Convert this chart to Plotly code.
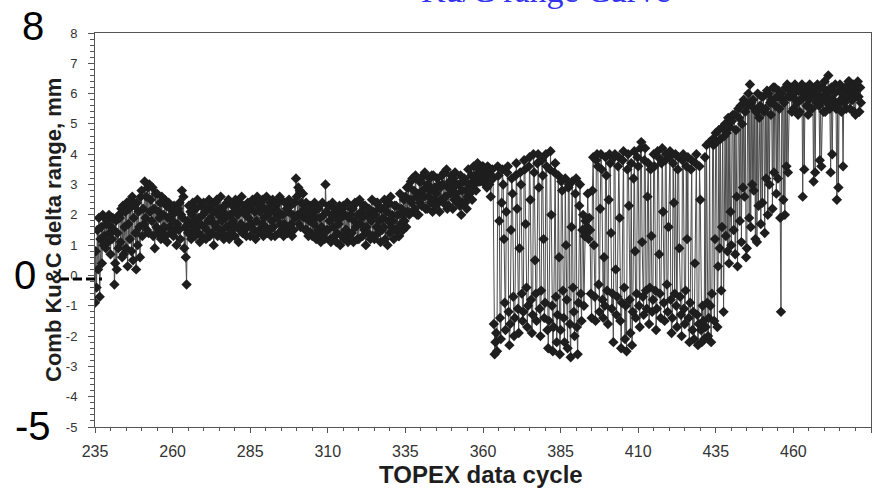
import plotly.graph_objects as go

# ---- data: Comb Ku&C delta range (mm), four samples per TOPEX cycle ----
# each row: values at cycle c, c+0.25, c+0.5, c+0.75
seg1_start = 235
seg1 = [[-0.9, 0.8, -0.4, 1.5], [0.2, 1.9, -0.7, 1.2], [1.6, 0.4, 2.0, 1.0], [1.3, 1.9, 0.9, 1.7],
        [1.8, 1.1, 2.0, 1.4], [0.7, 1.6, 1.2, 1.9], [1.5, -0.3, 0.4, 1.8], [0.2, 1.4, 0.9, 2.0],
        [1.9, 1.1, 2.2, 0.6], [2.3, 0.7, 1.6, 2.1], [0.9, 2.4, 0.3, 1.7], [2.2, 1.2, 2.5, 0.8],
        [2.6, 0.5, 1.9, 2.3], [1.4, 0.2, 2.4, 1.0], [2.1, 1.6, 0.6, 2.6], [2.8, 1.3, 2.2, 1.7],
        [3.1, 1.9, 2.6, 1.5], [2.9, 1.4, 3.0, 2.1], [2.5, 1.8, 2.9, 1.3], [2.2, 0.9, 2.7, 1.6],
        [2.7, 1.4, 2.1, 1.9], [2.4, 1.2, 2.6, 1.5], [2.0, 1.6, 2.5, 1.3], [2.3, 1.1, 1.9, 2.4],
        [1.6, 2.2, 1.4, 2.0], [1.8, 1.3, 2.3, 1.5], [2.1, 1.0, 1.7, 2.2], [1.5, 2.4, 1.2, 2.0],
        [2.8, 1.9, 2.6, 0.9], [1.6, 0.6, -0.3, 1.8]]

seg2_start = 265
seg2 = [[1.4, 2.3, 1.7, 2.1], [1.2, 2.0, 2.4, 1.5], [1.8, 1.3, 2.2, 1.6], [2.5, 1.4, 1.9, 1.1],
        [1.7, 2.3, 1.3, 2.0], [2.4, 1.6, 2.1, 1.2], [1.5, 2.2, 1.8, 2.5], [1.3, 1.9, 2.3, 1.4],
        [2.1, 1.0, 1.7, 2.4], [1.6, 2.5, 1.3, 2.0], [2.2, 1.5, 2.6, 1.8], [1.4, 2.1, 1.2, 2.3],
        [1.9, 1.6, 2.4, 1.3], [2.5, 1.2, 2.0, 1.7], [1.5, 2.3, 1.8, 2.1], [1.3, 2.5, 1.6, 2.2],
        [2.0, 1.1, 2.4, 1.5], [1.7, 2.6, 1.4, 2.1], [2.3, 1.5, 2.0, 1.3], [1.6, 2.4, 1.9, 2.2],
        [1.3, 2.2, 1.7, 2.5], [2.4, 1.5, 2.1, 1.2], [1.8, 2.6, 1.4, 2.3], [1.5, 2.1, 2.4, 1.7],
        [2.5, 1.3, 1.9, 2.2], [1.6, 2.6, 1.4, 2.0], [2.2, 1.5, 2.4, 1.3], [1.8, 2.5, 1.6, 2.1],
        [1.3, 2.3, 1.9, 2.4], [2.1, 1.4, 2.6, 1.7], [2.5, 1.5, 2.0, 1.3], [1.7, 2.4, 1.4, 2.2],
        [1.4, 2.1, 2.5, 1.6], [2.3, 1.7, 1.3, 2.0], [1.5, 2.4, 1.9, 3.2]]

seg3_start = 300
seg3 = [[2.6, 2.0, 2.9, 1.7], [2.8, 1.6, 2.4, 2.1], [2.7, 1.9, 2.2, 1.5], [2.4, 1.5, 2.0, 1.3],
        [1.8, 2.3, 1.4, 2.1], [1.3, 2.0, 1.7, 2.4], [1.9, 1.2, 2.2, 1.5], [2.2, 1.4, 1.9, 1.1],
        [1.6, 2.4, 1.3, 2.0], [1.2, 3.0, 2.1, 1.5], [1.5, 2.3, 1.8, 1.2], [1.1, 2.0, 2.4, 1.6],
        [2.2, 1.3, 1.9, 1.1], [1.4, 2.1, 1.7, 2.3], [1.0, 1.9, 1.3, 2.2], [2.3, 1.2, 2.0, 1.5],
        [1.5, 2.4, 1.1, 1.9], [1.3, 2.0, 2.2, 1.4], [2.2, 1.1, 1.8, 2.4], [1.6, 2.4, 1.2, 2.0],
        [1.2, 2.5, 1.7, 2.1], [1.9, 1.3, 2.3, 1.5], [2.3, 1.0, 1.6, 2.0], [1.4, 2.2, 1.9, 1.2],
        [1.8, 2.5, 1.3, 2.1], [1.2, 2.0, 2.4, 1.6], [2.4, 1.4, 1.8, 2.2], [1.1, 2.2, 1.5, 1.9],
        [1.6, 2.5, 1.2, 2.3], [2.1, 1.0, 1.8, 2.4], [1.4, 2.6, 1.6, 2.0], [1.8, 1.2, 2.3, 1.5],
        [2.3, 1.5, 2.0, 1.3], [1.3, 2.7, 1.7, 2.2], [2.0, 1.5, 2.5, 1.8], [2.6, 1.6, 2.9, 2.1],
        [2.9, 2.0, 2.5, 3.1], [2.4, 3.2, 2.1, 2.8], [2.2, 3.3, 2.6, 2.0], [2.7, 2.0, 3.1, 2.4]]

seg4_start = 340
seg4 = [[3.1, 2.3, 2.8, 3.3], [2.6, 3.4, 2.2, 2.9], [2.2, 3.0, 2.6, 3.2], [2.8, 2.4, 3.3, 2.1],
        [3.3, 2.5, 2.9, 2.3], [2.7, 3.2, 2.4, 3.0], [2.1, 2.9, 2.5, 3.3], [3.0, 2.4, 3.4, 2.6],
        [2.6, 3.5, 2.2, 2.9], [2.3, 3.1, 2.7, 3.3], [2.9, 2.2, 3.2, 2.5], [3.4, 2.7, 3.0, 2.4],
        [2.5, 3.0, 2.3, 3.3], [2.0, 2.8, 2.4, 3.1], [3.2, 2.4, 2.8, 2.2], [2.6, 3.5, 3.0, 2.7],
        [2.9, 3.3, 2.5, 3.1], [3.6, 3.0, 3.3, 2.8], [3.3, 3.7, 3.1, 3.5], [3.1, 3.5, 3.4, 3.6],
        [3.6, 3.2, 3.5, 3.0], [3.4, 2.9, 3.6, 3.2], [3.0, 3.5, 2.6, 3.3]]

seg5_start = 363
seg5 = [[3.5, 3.2, -1.6, -2.6], [-2.2, -1.9, -2.5, 3.6], [3.3, 1.8, -1.4, -2.1], [2.4, 3.5, 3.0, 1.2],
        [-0.9, -1.8, 2.1, 3.4], [3.6, -1.2, -2.3, -1.6], [1.5, 3.2, 2.7, -0.7], [-2.0, -1.4, 3.3, 3.7],
        [2.2, -1.1, -1.9, 0.9], [3.4, 3.0, -0.6, -1.5], [-1.2, 3.8, 3.5, 1.7], [-0.4, -1.7, -1.0, 3.6],
        [3.9, 2.5, -0.8, -1.9], [-1.3, 4.0, 3.4, 0.5], [-0.6, -1.5, 3.7, 4.0], [2.9, -1.1, -2.0, -0.5],
        [3.8, 3.3, 1.2, -1.4], [-0.9, 4.0, 3.6, -1.8], [-2.4, -1.5, 3.5, 4.1], [2.0, -1.0, -2.5, -1.7],
        [3.4, 3.7, -0.7, -2.2], [-1.3, 3.3, 0.6, -2.6], [-1.8, 3.1, 2.8, -0.5], [-1.4, -2.2, 3.2, 1.0],
        [-0.8, -2.4, 2.9, 3.0], [-1.6, -2.7, 1.6, 3.1], [-0.4, -1.2, -2.0, 2.7], [3.2, -1.7, -2.6, -0.9],
        [2.3, 3.0, -0.6, -1.5], [1.5, 2.0, -1.0, 1.3], [1.8, 1.4, 1.6, 2.7], [1.2, 1.9, 1.5, -0.6],
        [-1.4, 2.8, 3.9, 1.0], [-0.7, -1.5, 3.8, 4.0], [3.6, -0.3, -1.2, 2.2], [4.0, 3.5, -0.8, -1.4],
        [0.6, -1.0, 3.9, 3.3], [-0.5, -1.6, 2.5, 4.0], [3.7, 1.4, -1.1, -0.6], [-2.2, 3.9, 4.0, 0.2],
        [-1.3, -0.7, 3.6, 3.9], [1.9, -1.5, -2.4, -0.9], [3.8, 4.1, -0.4, -2.1], [-1.0, -2.5, 3.5, 4.0],
        [2.3, -0.8, -1.9, 3.7], [-2.3, -1.2, 3.2, 4.1], [0.8, -1.4, -0.6, 3.9], [3.6, -1.0, -1.7, 4.2],
        [4.4, 1.1, -0.7, -1.3], [3.8, 4.2, -0.5, -1.1], [2.6, 3.7, -1.6, -0.4], [3.5, 1.3, -1.2, -0.8],
        [4.0, 3.6, -0.5, -1.8], [-1.1, 4.1, 3.9, 0.7], [-0.6, -1.4, 3.7, 4.2], [2.1, -0.9, -1.5, 3.8],
        [4.0, -0.3, -1.2, 1.6], [3.9, 4.1, -0.8, -1.9], [-1.4, 3.7, 2.4, -0.6], [4.0, -1.0, -1.7, 3.5],
        [3.9, 0.9, -0.7, -1.3], [-2.0, 3.8, 4.0, -1.1], [-1.6, -0.5, 3.6, 1.2], [3.9, -1.4, -2.2, -0.9],
        [3.5, 3.8, -1.8, -1.2], [-2.1, 0.4, 3.7, 4.0], [-1.3, -2.3, -1.6, 3.6], [2.5, -1.8, -2.2, -1.0],
        [-1.5, -2.1, 3.9, -1.7], [4.3, -0.9, -2.0, -1.4]]

seg6_start = 433
seg6 = [[4.4, -1.0, -2.2, -0.6], [4.5, 4.3, -1.5, 1.2], [4.7, 4.4, -1.7, 0.3], [4.8, 0.9, 4.5, -0.5],
        [1.6, 4.9, -1.2, 4.6], [5.0, 1.3, 4.7, 0.8], [5.2, 0.4, 4.9, 2.1], [1.0, 5.1, 5.3, 1.5],
        [5.3, 0.7, 4.8, 2.6], [0.3, 5.5, 5.2, 1.8], [5.6, 1.1, 5.0, 2.9], [5.8, 2.6, 5.4, 0.6],
        [0.9, 5.6, 6.0, 1.9], [6.3, 1.6, 5.7, 3.0], [5.8, 2.8, 5.5, 1.2], [5.4, 1.1, 6.0, 2.3],
        [5.2, 5.6, 1.7, 5.9], [2.4, 5.9, 5.4, 1.4], [5.5, 3.2, 6.1, 2.0], [6.0, 3.0, 5.7, 5.3],
        [5.8, 2.2, 6.2, 3.4], [6.2, 5.6, 2.7, 5.9], [3.2, 6.1, 5.5, 1.9], [-1.2, 6.0, 5.8, 2.5],
        [5.7, 2.0, 6.2, 3.6], [6.3, 3.4, 5.9, 6.1], [5.9, 6.2, 5.4, 6.0], [5.5, 6.0, 6.3, 5.8],
        [6.2, 5.7, 5.3, 6.1], [5.4, 6.1, 5.8, 6.3], [2.6, 5.9, 3.5, 6.0], [6.2, 5.6, 6.0, 5.3],
        [5.8, 6.3, 5.5, 6.1], [5.5, 5.9, 3.1, 6.2], [3.4, 6.0, 5.7, 6.3], [6.1, 5.6, 3.8, 5.9],
        [3.6, 5.8, 6.2, 5.4], [6.4, 5.4, 6.0, 5.7], [5.9, 6.6, 6.1, 5.5], [3.4, 6.2, 4.0, 5.8],
        [5.7, 6.0, 6.3, 5.5], [2.5, 5.6, 2.9, 6.1], [6.3, 5.8, 5.4, 6.0], [3.6, 6.0, 5.7, 6.2],
        [5.5, 6.2, 5.9, 6.4], [6.4, 5.5, 6.1, 5.8], [5.8, 6.3, 5.4, 6.0], [5.3, 6.1, 5.9, 6.4],
        [5.9, 5.4, 6.2, 5.7]]

segments = [(seg1_start, seg1), (seg2_start, seg2), (seg3_start, seg3),
            (seg4_start, seg4), (seg5_start, seg5), (seg6_start, seg6)]

x_ticks = [235, 260, 285, 310, 335, 360, 385, 410, 435, 460, 485]
y_ticks = [8, 7, 6, 5, 4, 3, 2, 1, 0, -1, -2, -3, -4, -5]
y_ticktext = ["8", "7", "6", "5", "4", "3", "2", "1", "0", "-1", "-2", "-3", "-4", "-5"]

cycles, values = [], []
for start, rows in segments:
    for i, row in enumerate(rows):
        for j, v in enumerate(row):
            cycles.append(start + i + j * 0.25)
            values.append(v)

fig = go.Figure()
fig.add_trace(go.Scatter(
    x=cycles, y=values, mode="lines+markers",
    line=dict(color="#4d4d4d", width=1),
    marker=dict(symbol="diamond", size=8, color="#1e1e1e"),
    showlegend=False, hoverinfo="skip"))

axis_font = "Liberation Sans, Arial, sans-serif"
fig.update_layout(
    width=883, height=488,
    margin=dict(l=95, r=12, t=33, b=61),
    paper_bgcolor="white", plot_bgcolor="white",
    font=dict(family=axis_font, color="#333333"),
    xaxis=dict(range=[235, 485], tickmode="array", tickvals=x_ticks, automargin=False,
               showgrid=False, zeroline=False, showline=True, mirror=True,
               linecolor="#555555", linewidth=1,
               ticks="outside", ticklen=5, tickcolor="#555555",
               tickfont=dict(size=16, color="#333333"), ticklabelstandoff=5,
               minor=dict(dtick=5, ticks="outside", ticklen=3, tickcolor="#555555")),
    yaxis=dict(range=[-5, 8], tickmode="array", tickvals=y_ticks, ticktext=y_ticktext,
               automargin=False,
               showgrid=False, zeroline=False, showline=True, mirror=True,
               linecolor="#555555", linewidth=1,
               ticks="outside", ticklen=6, tickcolor="#555555",
               tickfont=dict(size=13, color="#333333"), ticklabelstandoff=8,
               minor=dict(dtick=0.2, ticks="outside", ticklen=4, tickcolor="#555555")),
)

# axis titles
fig.add_annotation(text="<b>TOPEX data cycle</b>", xref="paper", yref="paper",
                   x=(481 - 95) / 776, y=(427 - 474) / 394, showarrow=False,
                   font=dict(size=24, color="#1e1e1e"), xanchor="center", yanchor="middle")
fig.add_annotation(text="<b>Comb Ku&C delta range, mm</b>", xref="paper", yref="paper",
                   x=(53 - 95) / 776, y=(427 - 230) / 394, showarrow=False, textangle=-90,
                   font=dict(size=22, color="#1e1e1e"), xanchor="center", yanchor="middle")

# overlaid large reference labels and title fragment
big = dict(family="Liberation Sans, Arial, sans-serif", size=40, color="black")
fig.add_annotation(text="8", xref="paper", yref="paper", x=(33 - 95) / 776, y=(427 - 26) / 394,
                   showarrow=False, font=big, xanchor="center", yanchor="middle")
fig.add_annotation(text="0", xref="paper", yref="paper", x=(25 - 95) / 776, y=(427 - 275) / 394,
                   showarrow=False, font=big, xanchor="center", yanchor="middle")
fig.add_annotation(text="-5", xref="paper", yref="paper", x=(33 - 95) / 776, y=(427 - 426) / 394,
                   showarrow=False, font=big, xanchor="center", yanchor="middle")
fig.add_shape(type="line", xref="paper", yref="y", x0=(60 - 95) / 776, x1=(102 - 95) / 776,
              y0=-0.12, y1=-0.12, line=dict(color="black", width=3, dash="9px,4px"))
fig.add_annotation(text="Ku/C range Curve", xref="paper", yref="paper",
                   x=(545 - 95) / 776, y=(427 - 11.5) / 394, showarrow=False,
                   font=dict(family="Liberation Serif, Times New Roman, serif", size=34, color="#3333ee"),
                   xanchor="center", yanchor="bottom")

fig.write_html("out.html")
